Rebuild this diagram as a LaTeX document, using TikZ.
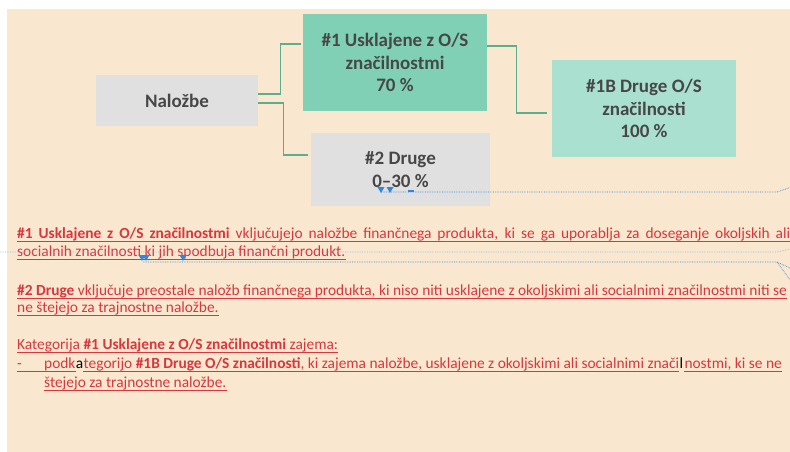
\documentclass[tikz,border=0pt]{standalone}
\usepackage{fontspec}
\setmainfont{Carlito}
\usepackage{xcolor}
\definecolor{page}{HTML}{F9E8CF}
\definecolor{boxgray}{HTML}{E0E0E0}
\definecolor{greendark}{HTML}{80D0B6}
\definecolor{greenlight}{HTML}{A9E0D0}
\definecolor{connect}{HTML}{5BAF8E}
\definecolor{boxtext}{HTML}{474747}
\definecolor{revred}{HTML}{D9363E}
\definecolor{revblue}{HTML}{2E86DE}
\definecolor{revpale}{HTML}{8FBCE0}
\tikzset{box/.style={draw=none, inner sep=0pt, align=center, text=boxtext,
   font=\fontsize{19}{22.5}\selectfont\bfseries},
 txt/.style={inner sep=0pt, anchor=base west, text=revred,
   font=\fontsize{15.4}{18}\selectfont},
 uline/.style={draw=revred, line width=0.8pt},
 conn/.style={draw=connect, line width=1.3pt},
 revline/.style={draw=revblue, densely dotted, line width=0.7pt},
 }

\begin{document}
\begin{tikzpicture}[x=1pt, y=-1pt]
        \useasboundingbox (0,0) rectangle (790,452);
        \clip (0,0) rectangle (790,452);
        \fill[white] (0,0) rectangle (790,452);
        \fill[page] (7,9) rectangle (790,452);

        % boxes
        \node[box, fill=boxgray, minimum width=162pt, minimum height=51pt] (nalozbe) at (177,100.5) {Naložbe};
        \node[box, fill=greendark, minimum width=184pt, minimum height=97pt] (uskl) at (395,62.5) {\#1 Usklajene z O/S\\značilnostmi\\70 \%};
        \node[box, fill=greenlight, minimum width=184pt, minimum height=97pt] (drugeos) at (644,108.5) {\#1B Druge O/S\\značilnosti\\100 \%};
        \node[box, fill=boxgray, minimum width=179pt, minimum height=73pt] (druge) at (400.5,169.5) {\#2 Druge\\0--30 \%};

        % connectors
        \draw[conn] ([yshift=6.5pt]nalozbe.east) -- ++(22,0) |- ([xshift=-2pt,yshift=18.5pt]uskl.west);
        \draw[conn] ([yshift=-2.5pt]nalozbe.east) -- ++(25,0) |- ([xshift=-3pt,yshift=14.5pt]druge.west);
        \draw[conn] ([yshift=16.5pt]uskl.east) -- ++(29,0) |- ([xshift=-5pt,yshift=-4.5pt]drugeos.west);

        % text
        \node[txt] (l1) at (17,238.5) {\makebox[773pt][s]{\textbf{\#1 Usklajene z O/S značilnostmi} vključujejo naložbe finančnega produkta, ki se ga uporablja za doseganje okoljskih ali}};
        \node[txt] (l2) at (17,256.5) {socialnih značilnosti ki jih spodbuja finančni produkt.};
        \node[txt] (l3) at (17,295) {\textbf{\#2 Druge} vključuje preostale naložb finančnega produkta, ki niso niti usklajene z okoljskimi ali socialnimi značilnostmi niti se};
        \node[txt] (l4) at (17,312) {ne štejejo za trajnostne naložbe.};
        \node[txt] (l5) at (17,349.5) {Kategorija \textbf{\#1 Usklajene z O/S značilnostmi} zajema:};
        \node[txt] (dash) at (17,368.5) {-};
        \node[txt] (podk) at (44,368.5) {podk};
        \node[txt, text=black] (a) at (podk.base east) {a};
        \node[txt] (l6) at (a.base east) {tegorijo \textbf{\#1B Druge O/S značilnosti}, ki zajema naložbe, usklajene z okoljskimi ali socialnimi znači};
        \node[txt, text=black] (ll) at (l6.base east) {l};
        \node[txt] (l6b) at ([xshift=1pt]ll.base east) {nostmi, ki se ne};
        \node[txt] (l7) at (44,387) {štejejo za trajnostne naložbe.};

        % underlines
        \foreach \n in {l1,l2,l3,l4,l5,l6,l6b,l7}
          \draw[uline] ([yshift=-3pt]\n.base west) -- ([yshift=-3pt]\n.base east);
        \draw[uline] ([yshift=-3pt]dash.base west) -- ([yshift=-3pt]podk.base east);

        % revision marks
        \draw[revline] (381,192) -- (777,192) -- (790,187.5);
        \draw[revline, draw=revpale] (0,252) -- (777,252) -- (790,249);
        \draw[revline] (143,262) -- (777,262) -- (790,268);
        \draw[revline] (777,262) -- (790,280);
        \foreach \x/\y in {381/190, 390/190, 142/258, 146/258, 183/258}
          \fill[revblue] (\x-3.5,\y-3) -- (\x+3.5,\y-3) -- (\x,\y+3) -- cycle;
        \draw[revblue, line width=1.5pt] (408,191) -- (414,191);
    \end{tikzpicture}
\end{document}
